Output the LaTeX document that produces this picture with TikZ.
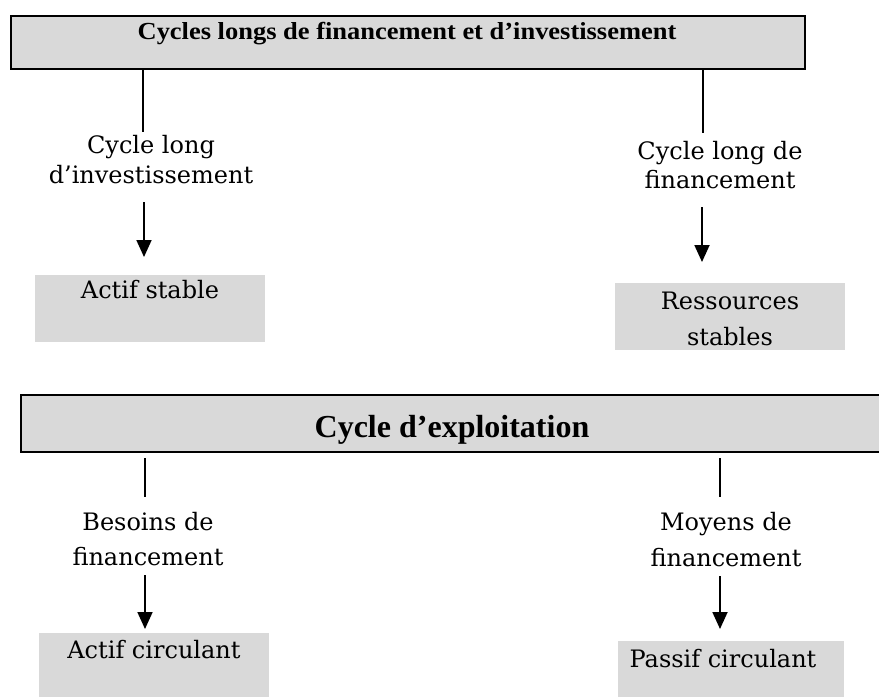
\documentclass[tikz,border=0pt]{standalone}
\usepackage{fontspec}
\usepackage{graphicx}
\setmainfont{DejaVu Serif}
\newfontfamily\hdfont{Liberation Serif}
\usetikzlibrary{arrows.meta}
\definecolor{boxgray}{HTML}{D9D9D9}
\newcommand\twolines[3]{{\fontsize{24}{#3}\selectfont\begin{tabular}[t]{@{}c@{}}#1\\#2\end{tabular}}}
\begin{document}
\begin{tikzpicture}[x=1pt,y=-1pt,
  hdrbox/.style={draw=black, line width=2.2pt, fill=boxgray, inner sep=0pt, anchor=north west},
  graybox/.style={fill=boxgray, inner sep=0pt, anchor=north west},
  lbl/.style={inner sep=0pt, anchor=base, font=\fontsize{24}{30}\selectfont},
  conn/.style={line width=1.8pt},
  arr/.style={line width=1.8pt, -{Triangle[width=15pt,length=17pt]}}
]
\useasboundingbox (0,0) rectangle (879,697);

% header 1
\node[hdrbox, minimum width=794pt, minimum height=53pt] (h1) at (10,15) {};
\node[inner sep=0pt, anchor=base, font=\hdfont\bfseries\fontsize{24.5}{28}\selectfont] (h1t) at (407,39)
  {\scalebox{1.08}[1]{Cycles longs de financement et d’investissement}};

\coordinate (l1b) at (143,132);
\coordinate (r1b) at (703,133);
\draw[conn] (h1.south -| l1b) -- (l1b);
\draw[conn] (h1.south -| r1b) -- (r1b);

\node[lbl] (c1) at (151,153) {\twolines{Cycle long}{d’investissement}{30}};
\node[lbl] (c2) at (720,159) {\twolines{Cycle long de}{financement}{29}};

\coordinate (a1s) at (144,202);
\coordinate (a1e) at (144,257);
\coordinate (a2s) at (702,207);
\coordinate (a2e) at (702,262);
\draw[arr] (a1s) -- (a1e);
\draw[arr] (a2s) -- (a2e);

\node[graybox, minimum width=230pt, minimum height=67pt] (b1) at (35,275) {};
\node[graybox, minimum width=230pt, minimum height=67pt] (b2) at (615,283) {};
\node[lbl] (b1t) at (150,298) {Actif stable};
\node[lbl] (b2t) at (730,309) {\twolines{Ressources}{stables}{36}};

% header 2
\node[hdrbox, minimum width=870pt, minimum height=57pt] (h2) at (20,394) {};
\node[inner sep=0pt, anchor=base, font=\hdfont\bfseries\fontsize{32}{36}\selectfont] (h2t) at (452,437)
  {Cycle d’exploitation};

\coordinate (l2b) at (145,497);
\coordinate (r2b) at (720,497);
\draw[conn] (h2.south -| l2b) ++(0,5) coordinate (l2a) -- (l2b);
\draw[conn] (h2.south -| r2b) ++(0,5) coordinate (r2a) -- (r2b);

\node[lbl] (c3) at (148,530) {\twolines{Besoins de}{financement}{35}};
\node[lbl] (c4) at (726,530) {\twolines{Moyens de}{financement}{36}};

\coordinate (a3s) at (145,575);
\coordinate (a3e) at (145,629);
\coordinate (a4s) at (720,576);
\coordinate (a4e) at (720,629);
\draw[arr] (a3s) -- (a3e);
\draw[arr] (a4s) -- (a4e);

\node[graybox, minimum width=230pt, minimum height=64pt] (b3) at (39,633) {};
\node[graybox, minimum width=226pt, minimum height=56pt] (b4) at (618,641) {};
\node[lbl] (b3t) at (154,658) {Actif circulant};
\node[lbl] (b4t) at (723,667) {Passif circulant};
\end{tikzpicture}
\end{document}
